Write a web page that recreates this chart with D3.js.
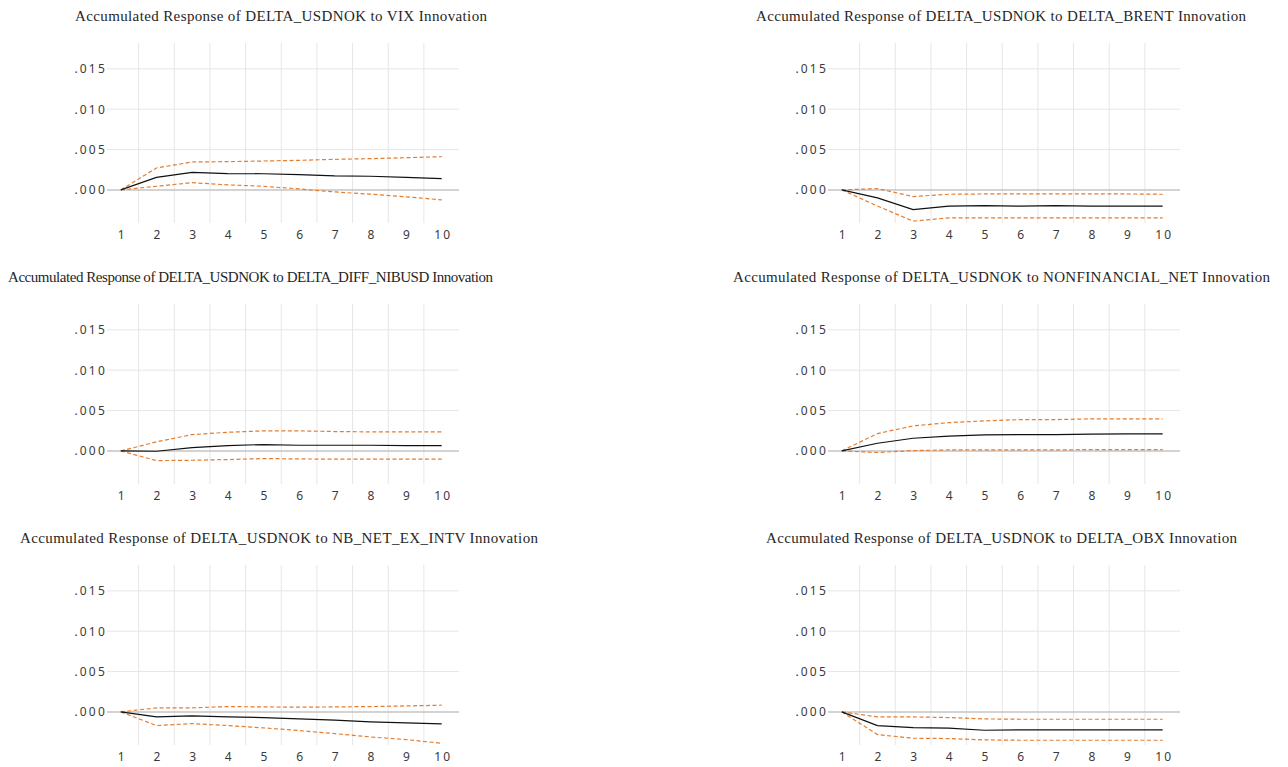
<!DOCTYPE html>
<html>
<head>
<meta charset="utf-8">
<script src="https://cdn.jsdelivr.net/npm/d3@7"></script>
<style>
  body { margin: 0; background: #fff; }
  svg { display: block; }
</style>
</head>
<body>
<svg id="chart" width="1288" height="767"></svg>
<script>
// Forecast horizon (periods) and axis ticks
const periods = [1, 2, 3, 4, 5, 6, 7, 8, 9, 10];
const yTickValues = [0.000, 0.005, 0.010, 0.015];
const yTickLabels = [".000", ".005", ".010", ".015"];

// Shock variables, one panel each
const shocks = ["VIX", "DELTA_BRENT", "DELTA_DIFF_NIBUSD", "NONFINANCIAL_NET", "NB_NET_EX_INTV", "DELTA_OBX"];

// Accumulated responses of DELTA_USDNOK with +/- 2 S.E. bands
const respVIX   = [0, 0.00156, 0.00218, 0.00202, 0.00200, 0.00190, 0.00173, 0.00169, 0.00156, 0.00140];
const upperVIX  = [0, 0.00272, 0.00346, 0.00350, 0.00358, 0.00366, 0.00379, 0.00387, 0.00399, 0.00412];
const lowerVIX  = [0, 0.00045, 0.00090, 0.00062, 0.00045, 0.00012, -0.00025, -0.00053, -0.00086, -0.00123];

const respBRENT  = [0, -0.00099, -0.00243, -0.00202, -0.00194, -0.00202, -0.00194, -0.00200, -0.00200, -0.00200];
const upperBRENT = [0, 0.00016, -0.00082, -0.00054, -0.00050, -0.00050, -0.00050, -0.00050, -0.00050, -0.00054];
const lowerBRENT = [0, -0.00200, -0.00387, -0.00346, -0.00346, -0.00346, -0.00346, -0.00346, -0.00346, -0.00346];

const respNIBUSD  = [0, -0.00004, 0.00041, 0.00066, 0.00079, 0.00070, 0.00070, 0.00070, 0.00066, 0.00066];
const upperNIBUSD = [0, 0.00112, 0.00202, 0.00231, 0.00248, 0.00248, 0.00240, 0.00236, 0.00236, 0.00236];
const lowerNIBUSD = [0, -0.00120, -0.00116, -0.00107, -0.00095, -0.00099, -0.00103, -0.00103, -0.00103, -0.00103];

const respNONFIN  = [0, 0.00095, 0.00157, 0.00182, 0.00198, 0.00202, 0.00202, 0.00207, 0.00210, 0.00210];
const upperNONFIN = [0, 0.00215, 0.00310, 0.00350, 0.00372, 0.00388, 0.00388, 0.00397, 0.00397, 0.00397];
const lowerNONFIN = [0, -0.00020, 0.00004, 0.00012, 0.00012, 0.00012, 0.00012, 0.00016, 0.00016, 0.00016];

const respNBINTV  = [0, -0.00062, -0.00050, -0.00062, -0.00070, -0.00087, -0.00103, -0.00124, -0.00136, -0.00149];
const upperNBINTV = [0, 0.00050, 0.00050, 0.00066, 0.00062, 0.00058, 0.00062, 0.00066, 0.00074, 0.00083];
const lowerNBINTV = [0, -0.00169, -0.00145, -0.00169, -0.00198, -0.00231, -0.00269, -0.00310, -0.00343, -0.00388];

const respOBX  = [0, -0.00169, -0.00194, -0.00202, -0.00227, -0.00223, -0.00223, -0.00223, -0.00223, -0.00223];
const upperOBX = [0, -0.00062, -0.00062, -0.00070, -0.00087, -0.00091, -0.00091, -0.00091, -0.00091, -0.00091];
const lowerOBX = [0, -0.00281, -0.00326, -0.00330, -0.00347, -0.00351, -0.00351, -0.00351, -0.00351, -0.00351];

const panels = [
  { shock: shocks[0], resp: respVIX,    upper: upperVIX,    lower: lowerVIX },
  { shock: shocks[1], resp: respBRENT,  upper: upperBRENT,  lower: lowerBRENT },
  { shock: shocks[2], resp: respNIBUSD, upper: upperNIBUSD, lower: lowerNIBUSD },
  { shock: shocks[3], resp: respNONFIN, upper: upperNONFIN, lower: lowerNONFIN },
  { shock: shocks[4], resp: respNBINTV, upper: upperNBINTV, lower: lowerNBINTV },
  { shock: shocks[5], resp: respOBX,    upper: upperOBX,    lower: lowerOBX }
];

// Layout: panel grid offsets and title extents (left, right) within the page
const colOffsets = [0, 721];
const rowOffsets = [0, 261, 522];
const titleSpans = [[75, 487], [756, 1246], [8, 493], [733, 1270], [20, 538], [766, 1237]];

const plotLeft = 107, plotRight = 459, plotTop = 43, plotBottom = 223;

const x = d3.scaleLinear().domain([1, 10]).range([120.8, 441.7]);
const y = d3.scaleLinear().domain([-0.0041, 0.0182]).range([plotBottom, plotTop]);

const line = d3.line()
  .x((d, i) => x(periods[i]))
  .y(d => y(d));

const svg = d3.select("#chart");

panels.forEach((p, k) => {
  const col = k % 2, row = Math.floor(k / 2);
  const g = svg.append("g")
    .attr("transform", `translate(${colOffsets[col]},${rowOffsets[row]})`);

  // Title
  const span = titleSpans[k];
  g.append("text")
    .attr("x", span[0] - colOffsets[col])
    .attr("y", 20.5)
    .attr("textLength", span[1] - span[0])
    .attr("lengthAdjust", "spacing")
    .attr("font-family", "Liberation Serif, serif")
    .attr("font-size", 15)
    .attr("fill", "#262626")
    .text(`Accumulated Response of DELTA_USDNOK to ${p.shock} Innovation`);

  // Vertical grid lines between periods
  const vgrid = d3.range(1.5, 10, 1);
  g.append("g").selectAll("line").data(vgrid).join("line")
    .attr("x1", d => x(d)).attr("x2", d => x(d))
    .attr("y1", plotTop).attr("y2", plotBottom)
    .attr("stroke", "#e6e6e6").attr("stroke-width", 1);

  // Horizontal grid lines
  g.append("g").selectAll("line").data(yTickValues.filter(v => v !== 0)).join("line")
    .attr("x1", plotLeft).attr("x2", plotRight)
    .attr("y1", d => y(d)).attr("y2", d => y(d))
    .attr("stroke", "#e6e6e6").attr("stroke-width", 1);

  // Zero line
  g.append("line")
    .attr("x1", plotLeft).attr("x2", plotRight)
    .attr("y1", y(0)).attr("y2", y(0))
    .attr("stroke", "#c4c4c4").attr("stroke-width", 1.5);

  // Y axis labels
  const yAxis = d3.axisLeft(y).tickValues(yTickValues)
    .tickFormat((d, i) => yTickLabels[i]).tickSize(0).tickPadding(0);
  const ya = g.append("g").attr("transform", `translate(${plotLeft},0)`).call(yAxis);
  ya.select(".domain").remove();
  ya.selectAll("text")
    .attr("font-family", "Noto Sans, sans-serif")
    .attr("font-size", 12)
    .attr("letter-spacing", "2.2px")
    .attr("fill", "#3a3a3a");

  // X axis labels
  const xAxis = d3.axisBottom(x).tickValues(periods).tickFormat(d3.format("d"))
    .tickSize(0).tickPadding(0);
  const xa = g.append("g").attr("transform", `translate(0,${plotBottom + 7})`).call(xAxis);
  xa.select(".domain").remove();
  xa.selectAll("text")
    .attr("font-family", "Noto Sans, sans-serif")
    .attr("font-size", 12)
    .attr("letter-spacing", "2.2px")
    .attr("dx", "1.1px")
    .attr("fill", "#3a3a3a");

  // Confidence bands
  [p.upper, p.lower].forEach(band => {
    g.append("path")
      .datum(band)
      .attr("d", line)
      .attr("fill", "none")
      .attr("stroke", "#e57d2e")
      .attr("stroke-width", 1.2)
      .attr("stroke-dasharray", "4,2.5");
  });

  // Point response
  g.append("path")
    .datum(p.resp)
    .attr("d", line)
    .attr("fill", "none")
    .attr("stroke", "#111")
    .attr("stroke-width", 1.2);
});
</script>
</body>
</html>
